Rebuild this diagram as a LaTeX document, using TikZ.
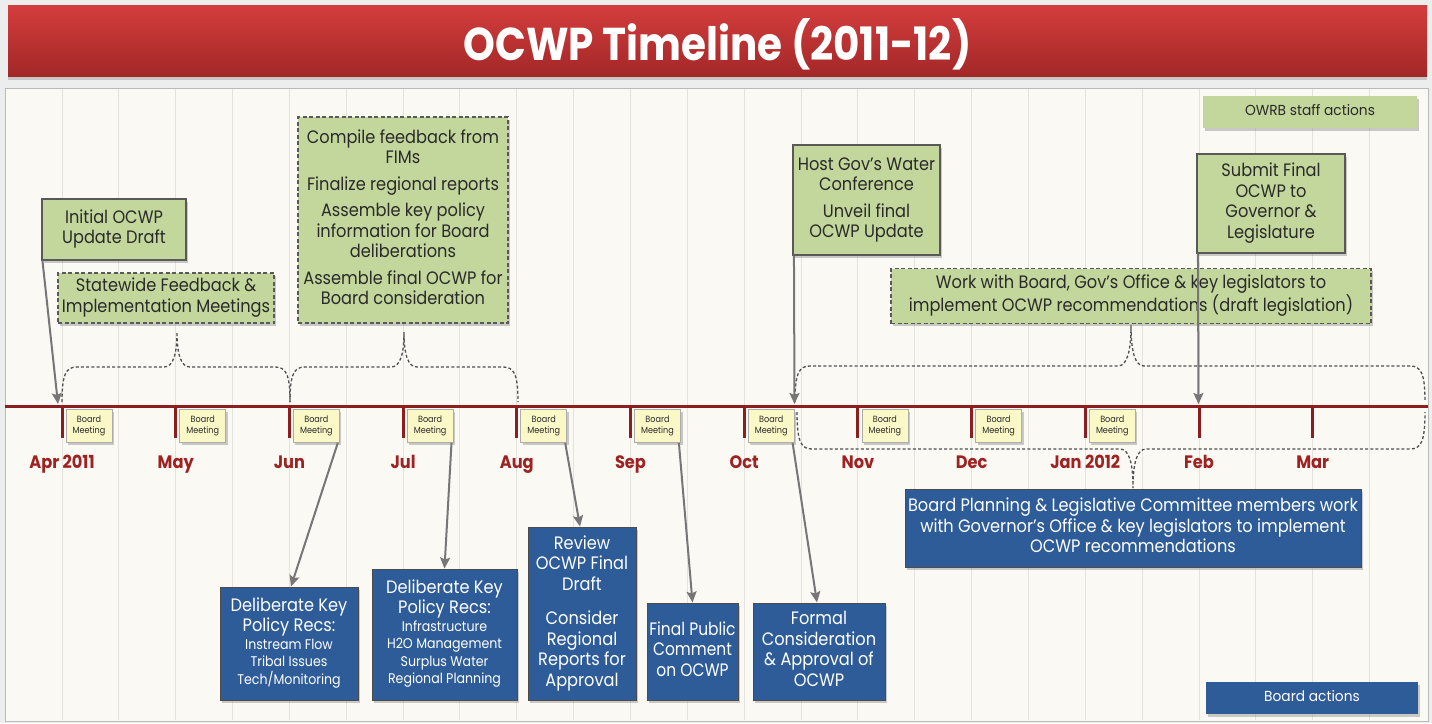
\documentclass[tikz,border=0pt]{standalone}
\usepackage{fontspec}
\setmainfont{Poppins}
\usepackage{graphicx}
\usetikzlibrary{shadows,arrows.meta}

\definecolor{bg}{HTML}{ECEDED}
\definecolor{panel}{HTML}{FAF9F4}
\definecolor{gridc}{HTML}{E3E2DC}
\definecolor{tred}{HTML}{8E1D1D}
\definecolor{mred}{HTML}{9E2222}
\definecolor{titletop}{HTML}{D43D3D}
\definecolor{titlebot}{HTML}{A32727}
\definecolor{gfill}{HTML}{C3D79C}
\definecolor{bfill}{HTML}{2E5C99}
\definecolor{ymfill}{HTML}{FBF8C8}
\definecolor{arrc}{HTML}{767676}
\definecolor{bracec}{HTML}{4F4F4F}
\definecolor{txt}{HTML}{2A2A2A}

\newcommand{\myfs}[2]{\fontsize{#1}{#2}\selectfont}
\newcommand{\sqtext}[2][0.9]{\scalebox{#1}[1]{\begin{tabular}{@{}c@{}}#2\end{tabular}}}
\newcommand{\smf}{\myfs{14}{16}}
% brace: xa, xb, ybase, yh, xt, yt
\newcommand{\brc}[6]{%
 \draw[brace] (#1,#3) .. controls (#1,{#4+(#3-#4)*0.2}) and ({#1+4},#4) .. ({#1+15},#4)
  -- ({#5-13},#4) .. controls ({#5-4},#4) and (#5,{#4+(#6-#4)*0.35}) .. (#5,#6)
  .. controls (#5,{#4+(#6-#4)*0.35}) and ({#5+4},#4) .. ({#5+13},#4)
  -- ({#2-15},#4) .. controls ({#2-4},#4) and (#2,{#4+(#3-#4)*0.2}) .. (#2,#3);}

\begin{document}
\begin{tikzpicture}[x=1pt,y=-1pt,
  shad/.style={drop shadow={opacity=0.4,shadow xshift=2pt,shadow yshift=-2.5pt}},
  gbox/.style={draw=gray!70!black, line width=1.1pt, fill=gfill, shad, inner sep=0pt,
    text=txt, font=\myfs{18}{20.5}},
  gdash/.style={gbox, dash pattern=on 4pt off 2.5pt},
  bbox/.style={draw=gray!60!black, line width=1pt, fill=bfill, shad, inner sep=0pt,
    text=white, font=\myfs{18}{20.5}},
  bmbox/.style={draw=gray!65, line width=0.8pt, fill=ymfill, minimum width=46pt,
    minimum height=33pt, inner sep=0pt, shad, font=\myfs{9}{10.5}, text=txt},
  arr/.style={draw=arrc, line width=2pt, -{Stealth[length=11pt,width=10pt,inset=2pt]}},
  brace/.style={draw=bracec, line width=1.3pt, dash pattern=on 3pt off 2.2pt},
  month/.style={font=\bfseries\myfs{18}{20}, text=mred, anchor=base}
]
\useasboundingbox (0,0) rectangle (1432,723);
\fill[bg] (0,0) rectangle (1432,723);
\fill[panel] (5,88) rectangle (1428,721);
\draw[gray!55, line width=1pt] (5,721) -- (5,88) -- (1428,88) -- (1428,721) -- cycle;
% grid
\foreach \k in {0,...,23} \draw[gridc, line width=1pt] ({62+56.85*\k},89) -- ({62+56.85*\k},720);
% title bar
\node[draw=none, top color=titletop, bottom color=titlebot, minimum width=1419pt,
  minimum height=71pt, inner sep=0pt,
  drop shadow={opacity=0.35,shadow xshift=0pt,shadow yshift=-4pt}] (bar) at (717.5,40.5) {};
\node[text=white, font=\bfseries\myfs{46}{50}] (title) at (717.5,47) {\sqtext[0.88]{OCWP Timeline (2011-12)}};

% braces
\brc{62}{290}{402}{367}{177}{332}
\brc{290}{518}{402}{367}{404}{332}
\brc{795}{1425}{402}{366}{1131}{325}
\brc{797}{1425}{412}{449}{1133}{488}

% timeline
\draw[tred, line width=3pt] (5,406) -- (1428,406);
\foreach \m [count=\i from 0] in {Apr 2011,May,Jun,Jul,Aug,Sep,Oct,Nov,Dec,Jan 2012,Feb,Mar}{
  \draw[tred, line width=3pt] ({62+113.7*\i},406) -- ({62+113.7*\i},438);
  \node[month] (m\i) at ({62+113.7*\i},468.5) {\scalebox{0.9}[1]{\m}};
}
\foreach \i in {0,...,9}
  \node[bmbox] (bm\i) at ({62+113.7*\i+27},426) {\sqtext[0.9]{Board\\Meeting}};

% legends
\node[gbox, draw=none, minimum width=214pt, minimum height=32pt, font=\myfs{14.5}{16}] (leg1) at (1310,112) {\sqtext[0.95]{OWRB staff actions}};
\node[bbox, draw=none, minimum width=212pt, minimum height=32pt, font=\myfs{14.5}{16}] (leg2) at (1312,698) {\sqtext[0.95]{Board actions}};

% green boxes
\node[gbox, minimum width=144pt, minimum height=61pt] (g1) at (114,229.5) {\sqtext{Initial OCWP\\Update Draft}};
\node[gdash, minimum width=216pt, minimum height=50pt] (g2) at (166,298) {\sqtext{Statewide Feedback \&\\Implementation Meetings}};
\node[gdash, minimum width=210pt, minimum height=206pt] (g3) at (403,220) {\sqtext{Compile feedback from\\FIMs\\[6pt]Finalize regional reports\\[6pt]Assemble key policy\\information for Board\\deliberations\\[6pt]Assemble final OCWP for\\Board consideration}};
\node[gbox, minimum width=147pt, minimum height=110pt] (g4) at (866.5,200) {\sqtext{Host Gov's Water\\Conference\\[6pt]Unveil final\\OCWP Update}};
\node[gbox, minimum width=148pt, minimum height=99pt] (g5) at (1271,203.5) {\sqtext{Submit Final\\OCWP to\\Governor \&\\Legislature}};
\node[gdash, minimum width=480pt, minimum height=55pt] (g6) at (1131,296) {\sqtext{Work with Board, Gov's Office \& key legislators to\\implement OCWP recommendations (draft legislation)}};

% blue boxes
\node[bbox, minimum width=138pt, minimum height=113pt] (d1) at (289,643.5) {\sqtext{Deliberate Key\\Policy Recs:\\[-3pt]\smf Instream Flow\\[-3pt]\smf Tribal Issues\\[-3pt]\smf Tech/Monitoring}};
\node[bbox, minimum width=145pt, minimum height=131pt] (d2) at (444.5,634.5) {\sqtext{Deliberate Key\\Policy Recs:\\[-3pt]\smf Infrastructure\\[-3pt]\smf H2O Management\\[-3pt]\smf Surplus Water\\[-3pt]\smf Regional Planning}};
\node[bbox, minimum width=108pt, minimum height=173pt] (d3) at (582,613.5) {\sqtext{Review\\OCWP Final\\Draft\\[14pt]Consider\\Regional\\Reports for\\Approval}};
\node[bbox, minimum width=91pt, minimum height=97pt] (d4) at (692.5,651.5) {\sqtext[0.86]{Final Public\\Comment\\on OCWP}};
\node[bbox, minimum width=132pt, minimum height=97pt] (d5) at (819,651.5) {\sqtext{Formal\\Consideration\\\& Approval of\\OCWP}};
\node[bbox, minimum width=456pt, minimum height=78pt] (d6) at (1133,528) {\sqtext{Board Planning \& Legislative Committee members work\\with Governor's Office \& key legislators to implement\\OCWP recommendations}};

% arrows to timeline
\coordinate (tapr) at (58,404);
\coordinate (toct) at (794.5,404);
\coordinate (tfeb) at (1198.5,404);
\draw[arr] ([xshift=1pt]g1.south west) -- (tapr);
\draw[arr] ([xshift=1.5pt]g4.south west) -- (toct);
\draw[arr] ([xshift=1.5pt]g5.south west) -- (tfeb);
% arrows from board meetings
\draw[arr] ([xshift=-2pt]bm2.south east) -- ([xshift=2pt]d1.north);
\draw[arr] ([xshift=-2pt]bm3.south east) -- (d2.north);
\draw[arr] ([xshift=-2pt]bm4.south east) -- ([xshift=-2pt]d3.north);
\draw[arr] ([xshift=-2pt]bm5.south east) -- (d4.north);
\draw[arr] ([xshift=-2pt]bm6.south east) -- ([xshift=-2pt]d5.north);
\end{tikzpicture}
\end{document}
